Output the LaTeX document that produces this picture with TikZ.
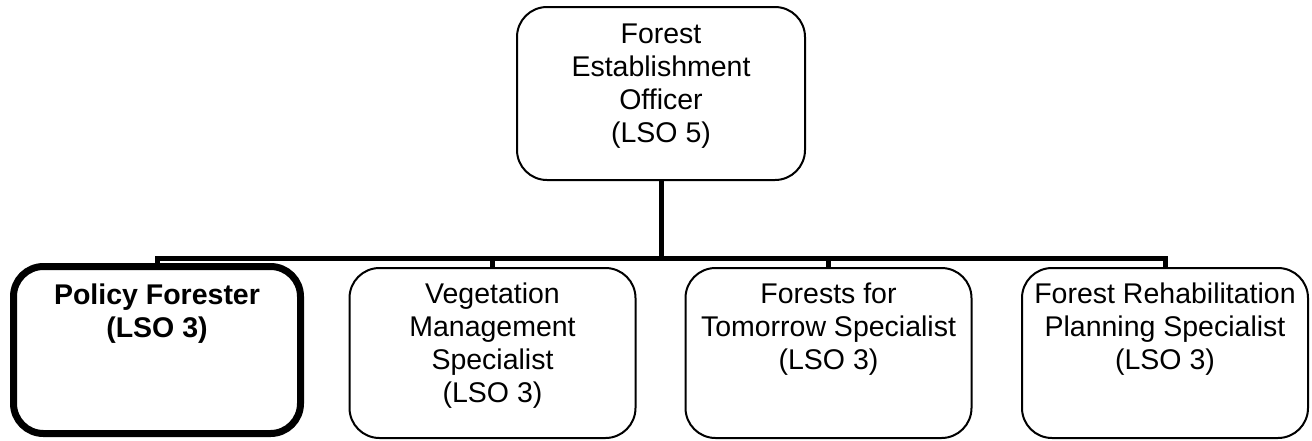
\documentclass[tikz,border=0pt]{standalone}
\usepackage{fontspec}
\setmainfont{Liberation Sans}
\begin{document}
\begin{tikzpicture}[x=1pt,y=-1pt,
  box/.style={draw=black, line width=2pt, rounded corners=30pt, fill=white,
              minimum width=#1, minimum height=170pt, inner sep=0pt},
  box/.default=286pt,
  thickbox/.style={draw=black, line width=7pt, rounded corners=30pt, fill=white,
              minimum width=287pt, minimum height=167pt, inner sep=0pt},
  lbl/.style={anchor=north, align=center, inner sep=0pt,
              font=\fontsize{28.5}{33}\selectfont},
  conn/.style={draw=black, line width=5pt}]
\useasboundingbox (0,0) rectangle (1312,440);
% boxes
\node[box=288pt, minimum height=173pt] (top) at (661,93.5) {};
\node[thickbox] (b1) at (157,350) {};
\node[box] (b2) at (492.5,353) {};
\node[box] (b3) at (828.5,353) {};
\node[box] (b4) at (1165,353) {};
% texts
\node[lbl] (t0) at ([yshift=-18pt]top.north) {Forest\\Establishment\\Officer\\(LSO 5)};
\node[lbl, font=\fontsize{28.5}{33}\selectfont\bfseries] (t1) at ([yshift=-21pt]b1.north) {Policy Forester\\(LSO 3)};
\node[lbl] (t2) at ([yshift=-16pt]b2.north) {Vegetation\\Management\\Specialist\\(LSO 3)};
\node[lbl] (t3) at ([yshift=-16pt]b3.north) {Forests for\\Tomorrow Specialist\\(LSO 3)};
\node[lbl] (t4) at ([yshift=-16pt]b4.north) {Forest Rehabilitation\\Planning Specialist\\(LSO 3)};
% connectors
\coordinate (bus) at (661,258);
\draw[conn] (top.south) -- (top.south |- bus);
\draw[conn] (b1.north) -- (b1.north |- bus) -- (b4.north |- bus) -- (b4.north);
\draw[conn] (b2.north) -- (b2.north |- bus);
\draw[conn] (b3.north) -- (b3.north |- bus);
\end{tikzpicture}
\end{document}
